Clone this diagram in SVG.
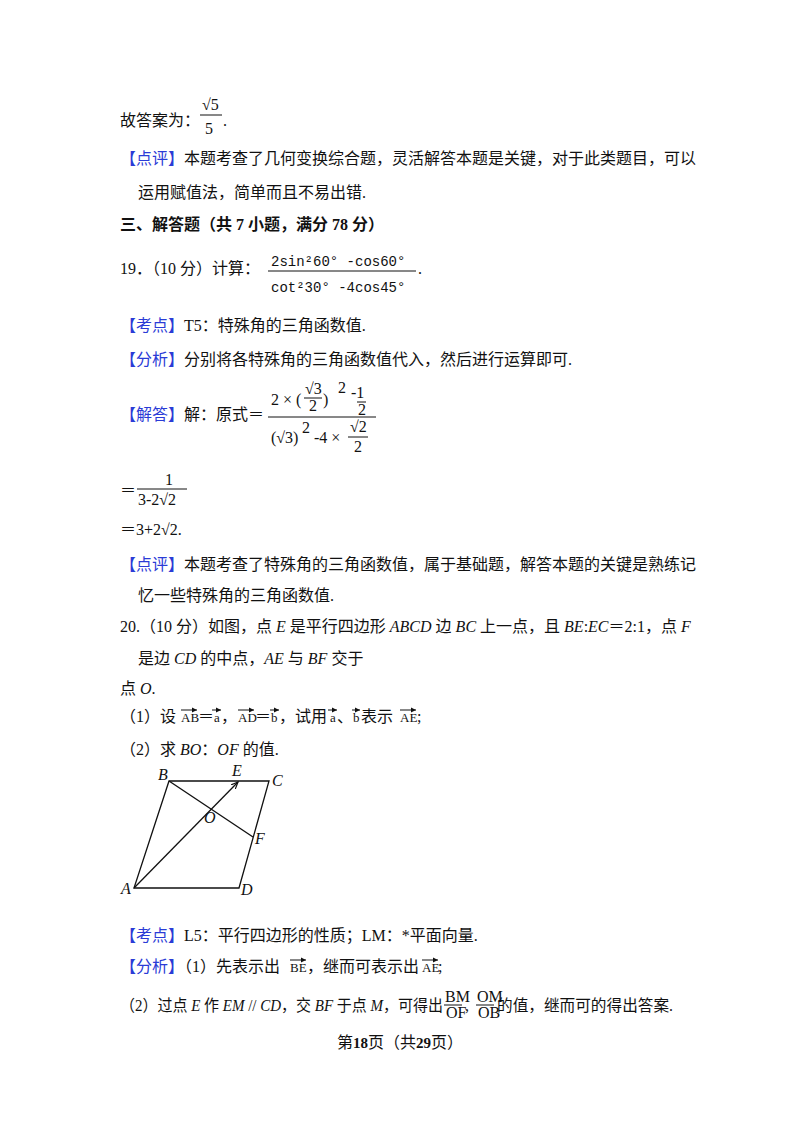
<svg xmlns="http://www.w3.org/2000/svg" width="800" height="1132" viewBox="0 0 800 1132">
<style>
text{font-family:"Liberation Serif","Noto Sans CJK SC",serif;font-size:16px;fill:#111}
.b{fill:#2a3bd6}
.m{font-family:"Liberation Mono","Noto Sans CJK SC",monospace;font-size:14px}
.i{font-style:italic}
.v{font-size:13px}
.ln{stroke:#111;stroke-width:1;fill:none}
.fg{stroke:#111;stroke-width:1.3;fill:none}
</style>
<defs><marker id="ar" markerWidth="8" markerHeight="8" refX="7" refY="4" orient="auto" markerUnits="userSpaceOnUse"><path d="M0,1 L7,4 L0,7" fill="none" stroke="#111" stroke-width="1.2"/></marker>
<marker id="va" markerWidth="6" markerHeight="6" refX="5" refY="3" orient="auto" markerUnits="userSpaceOnUse"><path d="M0,0.5 L5,3 L0,5.5 Z" fill="#111"/></marker></defs>
<rect width="800" height="1132" fill="#fff"/>
<g id="text">
<text x="120" y="126">故答案为：</text>
<text x="202" y="110" font-size="14">√5</text><line class="ln" x1="200" y1="115" x2="222" y2="115"/><text x="205" y="134" font-size="14">5</text><text x="223" y="126">.</text>
<text x="120" y="164"><tspan class="b">【点评】</tspan>本题考查了几何变换综合题，灵活解答本题是关键，对于此类题目，可以</text>
<text x="138" y="198">运用赋值法，简单而且不易出错.</text>
<text x="120" y="230" font-weight="bold">三、解答题（共 7 小题，满分 78 分）</text>
<text x="120" y="274">19．（10 分）计算：</text>
<text x="271" y="266" class="m">2sin²60° -cos60°</text><line class="ln" x1="268" y1="271" x2="416" y2="271"/><text x="271" y="292" class="m">cot²30° -4cos45°</text><text x="418" y="274">.</text>
<text x="120" y="331"><tspan class="b">【考点】</tspan>T5：特殊角的三角函数值.</text>
<text x="120" y="365"><tspan class="b">【分析】</tspan>分别将各特殊角的三角函数值代入，然后进行运算即可.</text>
<text x="120" y="420"><tspan class="b">【解答】</tspan>解：原式＝</text>
<text x="271" y="405" font-size="14">2 × (</text><text x="305" y="394" font-size="13">√3</text><line class="ln" x1="304" y1="398" x2="322" y2="398"/><text x="309" y="411" font-size="13">2</text><text x="323" y="405" font-size="14">)</text><text x="338" y="393" font-size="12">2</text><text x="351" y="398" font-size="14">-1</text><line class="ln" x1="357" y1="402" x2="366" y2="402"/><text x="358" y="415" font-size="13">2</text>
<line class="ln" x1="268" y1="417" x2="376" y2="417"/>
<text x="271" y="443" font-size="14">(√3)</text><text x="302" y="433" font-size="12">2</text><text x="314" y="443" font-size="14">-4 ×</text><text x="350" y="432" font-size="13">√2</text><line class="ln" x1="348" y1="437" x2="368" y2="437"/><text x="354" y="452" font-size="13">2</text>
<text x="120" y="496">＝</text><text x="165" y="485" font-size="13">1</text><line class="ln" x1="137" y1="489" x2="187" y2="489"/><text x="138" y="505" font-size="13">3-2√2</text>
<text x="120" y="535">＝3+2√2.</text>
<text x="120" y="570"><tspan class="b">【点评】</tspan>本题考查了特殊角的三角函数值，属于基础题，解答本题的关键是熟练记</text>
<text x="138" y="601">忆一些特殊角的三角函数值.</text>
<text x="120" y="632">20.（10 分）如图，点 <tspan class="i">E</tspan> 是平行四边形 <tspan class="i">ABCD</tspan> 边 <tspan class="i">BC</tspan> 上一点，且 <tspan class="i">BE</tspan>:<tspan class="i">EC</tspan>＝2:1，点 <tspan class="i">F</tspan></text>
<text x="138" y="664">是边 <tspan class="i">CD</tspan> 的中点，<tspan class="i">AE</tspan> 与 <tspan class="i">BF</tspan> 交于</text>
<text x="120" y="694">点 <tspan class="i">O</tspan>.</text>
<text x="120" y="722">（1）设</text><text x="181" y="722" class="v">AB</text><text x="198" y="722">＝</text><text x="214" y="722" class="v">a</text><text x="221" y="722">，</text><text x="238" y="722" class="v">AD</text><text x="255" y="722">＝</text><text x="271" y="722" class="v">b</text><text x="279" y="722">，试用</text><text x="330" y="722" class="v">a</text><text x="337" y="722">、</text><text x="353" y="722" class="v">b</text><text x="361" y="722">表示</text><text x="400" y="722" class="v">AE</text><text x="417" y="722">;</text>
<text x="120" y="755">（2）求 <tspan class="i">BO</tspan>：<tspan class="i">OF</tspan> 的值.</text>
<text x="120" y="941"><tspan class="b">【考点】</tspan>L5：平行四边形的性质；LM：*平面向量.</text>
<text x="120" y="972"><tspan class="b">【分析】</tspan>（1）先表示出</text><text x="290" y="972" class="v">BE</text><text x="307" y="972">，继而可表示出</text><text x="422" y="972" class="v">AE</text><text x="438" y="972">;</text>
<text x="120" y="1011" textLength="323" lengthAdjust="spacingAndGlyphs">（2）过点 <tspan class="i">E</tspan> 作 <tspan class="i">EM</tspan> // <tspan class="i">CD</tspan>，交 <tspan class="i">BF</tspan> 于点 <tspan class="i">M</tspan>，可得出</text>
<text x="445" y="1002" font-size="11">BM</text><line class="ln" x1="444" y1="1005" x2="462" y2="1005"/><text x="446" y="1018" font-size="11">OF</text>
<text x="465" y="1011">,</text>
<text x="477" y="1002" font-size="11">OM</text><line class="ln" x1="476" y1="1005" x2="494" y2="1005"/><text x="478" y="1018" font-size="11">OB</text>
<text x="497" y="1011" textLength="176" lengthAdjust="spacingAndGlyphs">的值，继而可的得出答案.</text>
<text x="400" y="1048" text-anchor="middle" font-size="12" font-family="Noto Sans CJK SC,sans-serif">第<tspan font-weight="bold" font-size="15">18</tspan>页（共<tspan font-weight="bold" font-size="15">29</tspan>页）</text>
</g>
<g id="vector-bars">
<line class="ln" x1="181" y1="710" x2="197" y2="710" marker-end="url(#va)"/>
<line class="ln" x1="212" y1="710" x2="221" y2="710" marker-end="url(#va)"/>
<line class="ln" x1="238" y1="710" x2="254" y2="710" marker-end="url(#va)"/>
<line class="ln" x1="270" y1="710" x2="279" y2="710" marker-end="url(#va)"/>
<line class="ln" x1="328" y1="710" x2="337" y2="710" marker-end="url(#va)"/>
<line class="ln" x1="352" y1="710" x2="360" y2="710" marker-end="url(#va)"/>
<line class="ln" x1="400" y1="710" x2="416" y2="710" marker-end="url(#va)"/>
<line class="ln" x1="290" y1="960" x2="306" y2="960" marker-end="url(#va)"/>
<line class="ln" x1="422" y1="960" x2="438" y2="960" marker-end="url(#va)"/>
</g>
<g id="figure">
<polygon class="fg" points="169,781 269,781 239,888 134,888"/>
<line class="fg" x1="169" y1="781" x2="253" y2="837"/>
<line class="fg" x1="134" y1="888" x2="238" y2="782" marker-end="url(#ar)"/>
<g class="i" font-size="14">
<text x="158" y="780">B</text><text x="232" y="776">E</text><text x="272" y="786">C</text><text x="204" y="823">O</text><text x="255" y="844">F</text><text x="121" y="894">A</text><text x="241" y="895">D</text>
</g>
</g>
</svg>
